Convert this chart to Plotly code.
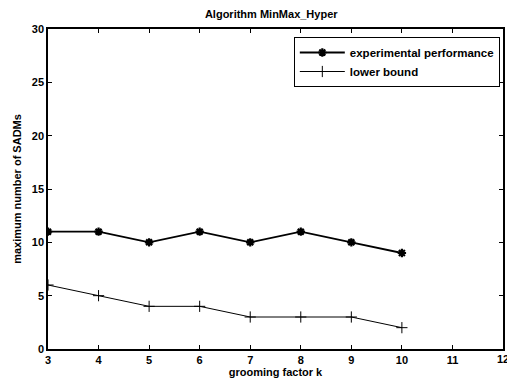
import plotly.graph_objects as go

# grooming factor k and the two measured curves
k_values = [3, 4, 5, 6, 7, 8, 9, 10]
experimental = [11, 11, 10, 11, 10, 11, 10, 9]
lower_bound = [6, 5, 4, 4, 3, 3, 3, 2]
x_ticks = [3, 4, 5, 6, 7, 8, 9, 10, 11]
y_ticks = [0, 5, 10, 15, 20, 25, 30]

font = dict(family="Liberation Sans, Arial, sans-serif", color="black")
bold = dict(weight="bold", **font)

fig = go.Figure()
fig.add_trace(go.Scatter(
    x=k_values, y=experimental, mode="lines+markers",
    name="experimental performance",
    line=dict(color="black", width=1.8),
    marker=dict(symbol="asterisk", size=7, color="black",
                line=dict(color="black", width=2.2)),
))
fig.add_trace(go.Scatter(
    x=k_values, y=lower_bound, mode="lines+markers",
    name="lower bound",
    line=dict(color="black", width=1),
    marker=dict(symbol="cross-thin", size=8, color="black",
                line=dict(color="black", width=1)),
))

axis_common = dict(
    showgrid=False, zeroline=False, showline=True, linecolor="black",
    linewidth=1.5, mirror="ticks", ticks="inside", ticklen=4,
    tickcolor="black", tickwidth=1, tickfont=dict(size=11, **bold),
)
fig.update_xaxes(range=[3, 12], tickvals=x_ticks,
                 title=dict(text="grooming factor k", font=dict(size=11, **bold), standoff=2),
                 **axis_common)
fig.update_yaxes(range=[0, 30], tickvals=y_ticks,
                 title=dict(text="maximum number of SADMs", font=dict(size=11, **bold), standoff=8),
                 **axis_common)

# last x tick label sits on the page edge
fig.add_annotation(x=12, y=0, xref="x", yref="y", text="12", showarrow=False,
                   yanchor="top", yshift=-2, font=dict(size=11, **bold))

fig.update_layout(
    width=507, height=384,
    margin=dict(l=48, r=2, t=29, b=35),
    paper_bgcolor="white", plot_bgcolor="white",
    title=dict(text="Algorithm MinMax_Hyper", x=0.535, xanchor="center",
               y=0.963, yanchor="middle", font=dict(size=11, **bold)),
    showlegend=True,
    legend=dict(x=0.993, y=0.975, xanchor="right", yanchor="top",
                bgcolor="white", bordercolor="black", borderwidth=1,
                font=dict(size=11.5, **bold), tracegroupgap=0,
                itemwidth=45),
)

fig.write_html("out.html")
